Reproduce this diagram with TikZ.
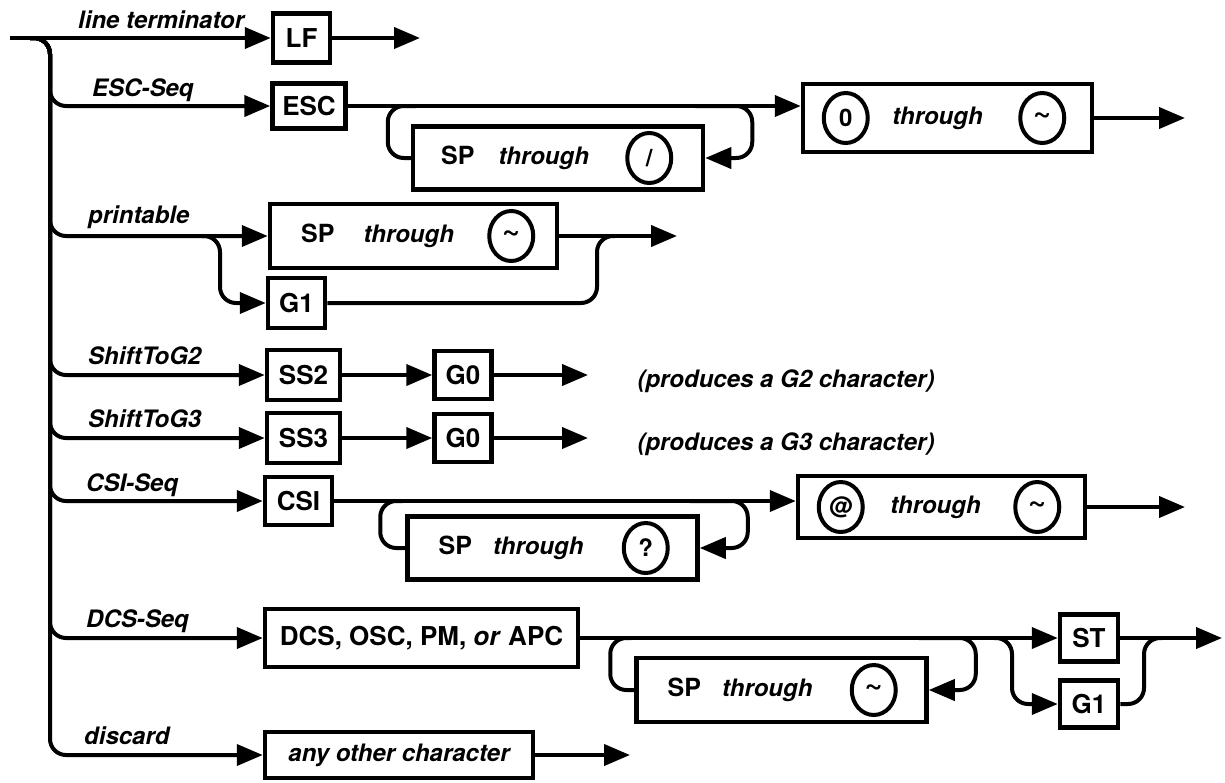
\documentclass[tikz,border=0pt]{standalone}
\usepackage{fontspec}
\setmainfont{TeX Gyre Heros}
\usetikzlibrary{arrows.meta,shapes.geometric}
\tikzset{
  vt-box/.style={draw, line width=4.5pt, minimum height=48pt, inner sep=5pt,
    font=\bfseries\fontsize{26}{30}\selectfont},
  vt-loop/.style={draw, line width=4.5pt, minimum width=290pt, minimum height=63pt},
  vt-circ/.style={draw, ellipse, line width=4pt, minimum width=44pt, minimum height=50pt,
    inner sep=0pt, font=\bfseries\fontsize{24}{28}\selectfont},
  vt-sp/.style={text height=18pt, text depth=5pt, inner sep=0pt, font=\bfseries\fontsize{25}{28}\selectfont},
  vt-thru/.style={text height=18pt, text depth=5pt, inner sep=0pt, font=\bfseries\itshape\fontsize{24}{28}\selectfont},
  vt-label/.style={anchor=base west, inner sep=0pt, font=\bfseries\itshape\fontsize{24}{28}\selectfont},
  vt-line/.style={line width=4pt, rounded corners=16pt},
  vt-arrow/.style={vt-line, -{Triangle[length=26pt, width=21pt]}}
}
\newcommand{\vttilde}{{\fontsize{31}{31}\selectfont\textasciitilde}}

\begin{document}
\begin{tikzpicture}[x=1pt, y=-1pt]
  \useasboundingbox (0,0) rectangle (1225,782);

  % entry line and trunk
  \coordinate (entry) at (10,38);
  \coordinate (fork) at (30,38);
  \coordinate (trunk) at (50,38);

  % line terminator
  \node[vt-box, minimum width=57pt, minimum height=49pt] (lf) at (301.5,38) {LF};
  \node[vt-label] (lbl-lf) at (78,28) {line terminator};
  \coordinate (lfout) at (420,38);
  \draw[vt-arrow] (entry) -- (lf.west);
  \draw[vt-arrow] (lf.east) -- (lfout);

  % ESC-Seq
  \node[vt-box, minimum width=73pt, minimum height=45pt] (esc) at (309,106) {ESC};
  \node[vt-label] (lbl-esc) at (92,96) {ESC-Seq};
  \node[vt-loop] (escrep) at (558,158) {};
  \node[vt-sp] (escrep-sp) at ([xshift=47pt]escrep.west) {SP};
  \node[vt-thru] (escrep-thru) at ([xshift=133pt]escrep.west) {through};
  \node[vt-circ] (escrep-hi) at ([xshift=-56pt]escrep.east) {/};
  \node[vt-loop, minimum width=289pt, minimum height=68pt] (escfin) at (947.5,118) {};
  \node[vt-circ] (escfin-lo) at ([xshift=45pt]escfin.west) {0};
  \node[vt-thru] (escfin-thru) at ([xshift=-10pt]escfin.center) {through};
  \node[vt-circ] (escfin-hi) at ([xshift=-52pt]escfin.east) {\vttilde};
  \coordinate (escout) at (1185,118);
  \draw[vt-arrow] (fork) -- (trunk) |- (esc.west);
  \draw[vt-arrow] (esc.east) -- (escfin.west |- esc.east);
  \draw[vt-line] ([xshift=5pt]escrep.north west |- esc.east) -| ([xshift=-23pt]escrep.west) -- (escrep.west);
  \draw[vt-arrow] ([xshift=-10pt]escrep.north east |- esc.east) -| ([xshift=47pt]escrep.east) -- (escrep.east);
  \draw[vt-arrow] (escfin.east) -- (escout);

  % printable
  \node[vt-loop, minimum width=287pt, minimum height=64pt] (prbox) at (413.5,236) {};
  \node[vt-sp] (prbox-sp) at ([xshift=50pt]prbox.west) {SP};
  \node[vt-thru] (prbox-thru) at ([xshift=141pt]prbox.west) {through};
  \node[vt-circ] (prbox-hi) at ([xshift=-48pt]prbox.east) {\vttilde};
  \node[vt-box, minimum width=57pt, minimum height=50pt] (prg1) at (296.5,303) {G1};
  \node[vt-label] (lbl-pr) at (88,223) {printable};
  \coordinate (prsplit) at (220,236);
  \coordinate (prjoin) at (597,236);
  \coordinate (prout) at (677,236);
  \draw[vt-arrow] (fork) -- (trunk) |- (prbox.west);
  \draw[vt-arrow] ([xshift=-18pt]prsplit) -- (prsplit) |- (prg1.west);
  \draw[vt-arrow] (prbox.east) -- (prout);
  \draw[vt-line] (prg1.east) -| (prjoin) -- ([xshift=18pt]prjoin);

  % ShiftToG2
  \node[vt-box, minimum width=73pt, minimum height=50pt] (ss2) at (303.5,375) {SS2};
  \node[vt-box, minimum width=57pt] (g2g0) at (463,375) {G0};
  \node[vt-label] (lbl-ss2) at (88,364) {ShiftToG2};
  \node[vt-thru] (g2note) at (786,381) {(produces a G2 character)};
  \coordinate (g2out) at (588,375);
  \draw[vt-arrow] (fork) -- (trunk) |- (ss2.west);
  \draw[vt-arrow] (ss2.east) -- (g2g0.west);
  \draw[vt-arrow] (g2g0.east) -- (g2out);

  % ShiftToG3
  \node[vt-box, minimum width=73pt, minimum height=50pt] (ss3) at (303.5,438) {SS3};
  \node[vt-box, minimum width=57pt] (g3g0) at (463,438) {G0};
  \node[vt-label] (lbl-ss3) at (88,427) {ShiftToG3};
  \node[vt-thru] (g3note) at (786,444) {(produces a G3 character)};
  \coordinate (g3out) at (588,438);
  \draw[vt-arrow] (fork) -- (trunk) |- (ss3.west);
  \draw[vt-arrow] (ss3.east) -- (g3g0.west);
  \draw[vt-arrow] (g3g0.east) -- (g3out);

  % CSI-Seq
  \node[vt-box, minimum width=67pt] (csi) at (298.5,501) {CSI};
  \node[vt-label] (lbl-csi) at (86,491) {CSI-Seq};
  \node[vt-loop] (csirep) at (552.5,548) {};
  \node[vt-sp] (csirep-sp) at ([xshift=50pt]csirep.west) {SP};
  \node[vt-thru] (csirep-thru) at ([xshift=133pt]csirep.west) {through};
  \node[vt-circ] (csirep-hi) at ([xshift=-54pt]csirep.east) {?};
  \node[vt-loop, minimum width=287pt, minimum height=62pt] (csifin) at (941.5,507) {};
  \node[vt-circ] (csifin-lo) at ([xshift=45pt]csifin.west) {@};
  \node[vt-thru] (csifin-thru) at ([xshift=-6pt]csifin.center) {through};
  \node[vt-circ] (csifin-hi) at ([xshift=-50pt]csifin.east) {\vttilde};
  \coordinate (csiout) at (1185,507);
  \draw[vt-arrow] (fork) -- (trunk) |- (csi.west);
  \draw[vt-arrow] (csi.east) -- (csifin.west |- csi.east);
  \draw[vt-line] ([xshift=-3pt]csirep.north west |- csi.east) -| ([xshift=-25pt]csirep.west) -- (csirep.west);
  \draw[vt-arrow] ([xshift=-10pt]csirep.north east |- csi.east) -| ([xshift=48pt]csirep.east) -- (csirep.east);
  \draw[vt-arrow] (csifin.east) -- (csiout);

  % DCS-Seq
  \node[vt-box, minimum width=313pt, minimum height=58pt] (dcs) at (421.5,638) {DCS, OSC, PM, \textit{or} APC};
  \node[vt-label] (lbl-dcs) at (86,627) {DCS-Seq};
  \node[vt-loop, minimum height=64pt] (dcsrep) at (781.5,690) {};
  \node[vt-sp] (dcsrep-sp) at ([xshift=50pt]dcsrep.west) {SP};
  \node[vt-thru] (dcsrep-thru) at ([xshift=133pt]dcsrep.west) {through};
  \node[vt-circ] (dcsrep-hi) at ([xshift=-55pt]dcsrep.east) {\vttilde};
  \node[vt-box, minimum width=58pt, minimum height=47pt] (st) at (1089,638) {ST};
  \node[vt-box, minimum width=58pt, minimum height=47pt] (dcsg1) at (1089,704) {G1};
  \coordinate (dsplit) at (1012,638);
  \coordinate (djoin) at (1144,638);
  \coordinate (dout) at (1222,638);
  \draw[vt-arrow] (fork) -- (trunk) |- (dcs.west);
  \draw[vt-arrow] (dcs.east) -- (st.west);
  \draw[vt-line] ([xshift=-3pt]dcsrep.north west |- dcs.east) -| ([xshift=-24pt]dcsrep.west) -- (dcsrep.west);
  \draw[vt-arrow] ([xshift=-10pt]dcsrep.north east |- dcs.east) -| ([xshift=47pt]dcsrep.east) -- (dcsrep.east);
  \draw[vt-arrow] ([xshift=-18pt]dsplit) -- (dsplit) |- (dcsg1.west);
  \draw[vt-arrow] (st.east) -- (dout);
  \draw[vt-line] (dcsg1.east) -| (djoin) -- ([xshift=18pt]djoin);

  % discard
  \node[vt-box, minimum width=268pt, minimum height=46pt, font=\bfseries\itshape\fontsize{24}{28}\selectfont] (disc) at (399,755) {any other character};
  \node[vt-label] (lbl-disc) at (84,744) {discard};
  \coordinate (discout) at (630,755);
  \draw[vt-arrow] (fork) -- (trunk) |- (disc.west);
  \draw[vt-arrow] (disc.east) -- (discout);
\end{tikzpicture}
\end{document}
